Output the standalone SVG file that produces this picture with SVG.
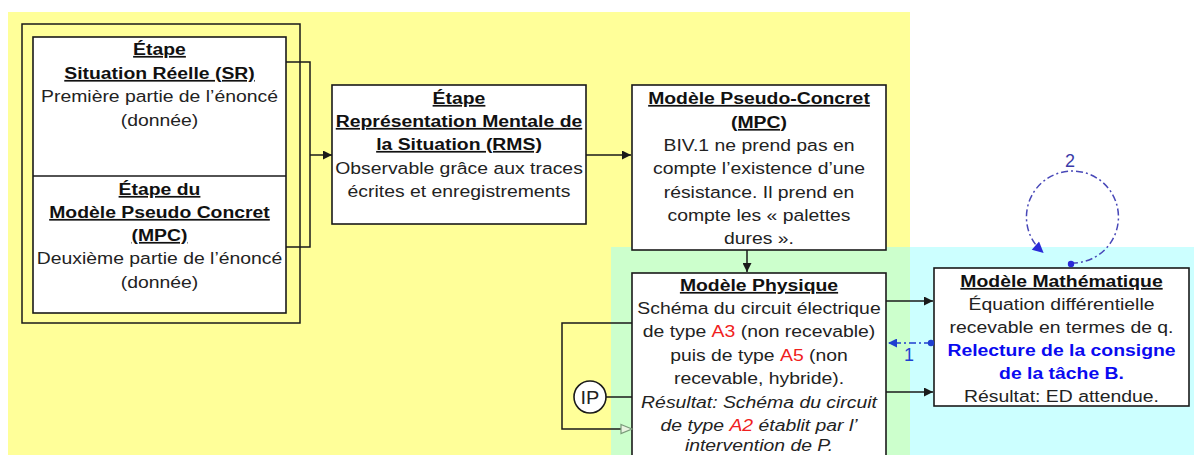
<svg xmlns="http://www.w3.org/2000/svg" width="1194" height="455" viewBox="0 0 1194 455">
<defs>
<style>
.box{fill:#fff;stroke:#1a1a1a;stroke-width:1.6}
.ln{fill:none;stroke:#1a1a1a;stroke-width:1.5}
text{font-family:"Liberation Sans",Arial,sans-serif;font-size:17px;fill:#222;text-anchor:middle}
.h{font-weight:bold;text-decoration:underline;fill:#111}
.it{font-style:italic}
.red{fill:#f02020}
.blue{fill:#0a0af0;font-weight:bold}
.bl{fill:none;stroke:#1f3fd0;stroke-width:1.5;stroke-dasharray:7 3 2 3}
.lp{fill:none;stroke:#4848b8;stroke-width:1.5;stroke-dasharray:7 3 2 3}
</style>
<marker id="ah" viewBox="0 0 10 10" refX="10" refY="5" markerWidth="11" markerHeight="9" markerUnits="userSpaceOnUse" orient="auto"><path d="M0,0 L10,5 L0,10 z" fill="#1a1a1a"/></marker>
<marker id="bh" viewBox="0 0 10 10" refX="10" refY="5" markerWidth="10" markerHeight="9" markerUnits="userSpaceOnUse" orient="auto"><path d="M0,0 L10,5 L0,10 z" fill="#1f3fd0"/></marker>
<marker id="ph" viewBox="0 0 10 10" refX="8" refY="5" markerWidth="12" markerHeight="11" markerUnits="userSpaceOnUse" orient="auto"><path d="M0,0 L10,5 L0,10 z" fill="#2a2ad8"/></marker>
</defs>
<rect x="0" y="0" width="1194" height="455" fill="#fff"/>
<rect x="8" y="12" width="902" height="443" fill="#ffff99"/>
<rect x="611" y="247" width="299" height="208" fill="#ccffcc"/>
<rect x="910" y="247" width="284" height="208" fill="#ccffff"/>

<g id="sr">
<rect x="22" y="24" width="278" height="299" fill="none" stroke="#1a1a1a" stroke-width="1.5"/>
<rect class="box" x="33" y="37" width="253" height="276"/>
<line x1="33" y1="176" x2="286" y2="176" stroke="#1a1a1a" stroke-width="1.5"/>
<g transform="translate(159.5,0) scale(1.14,1)">
<text class="h" x="0" y="55">Étape</text>
<text class="h" x="0" y="79">Situation Réelle (SR)</text>
<text x="0" y="102">Première partie de l’énoncé</text>
<text x="0" y="126">(donnée)</text>
<text class="h" x="0" y="195">Étape du</text>
<text class="h" x="0" y="218">Modèle Pseudo Concret</text>
<text class="h" x="0" y="241">(MPC)</text>
<text x="0" y="264">Deuxième partie de l’énoncé</text>
<text x="0" y="288">(donnée)</text>
</g>
</g>

<g id="rms">
<rect class="box" x="332" y="85" width="254" height="139"/>
<g transform="translate(459,0) scale(1.14,1)">
<text class="h" x="0" y="104">Étape</text>
<text class="h" x="0" y="127">Représentation Mentale de</text>
<text class="h" x="0" y="150">la Situation (RMS)</text>
<text x="0" y="174">Observable grâce aux traces</text>
<text x="0" y="197">écrites et enregistrements</text>
</g>
</g>

<g id="mpc">
<rect class="box" x="632" y="85" width="254" height="165"/>
<g transform="translate(759,0) scale(1.14,1)">
<text class="h" x="0" y="104">Modèle Pseudo-Concret</text>
<text class="h" x="0" y="128">(MPC)</text>
<text x="0" y="151">BIV.1 ne prend pas en</text>
<text x="0" y="174">compte l’existence d’une</text>
<text x="0" y="198">résistance. Il prend en</text>
<text x="0" y="221">compte les « palettes</text>
<text x="0" y="244">dures ».</text>
</g>
</g>

<g id="physique">
<rect class="box" x="632" y="273" width="254" height="200"/>
<g transform="translate(759,0) scale(1.14,1)">
<text class="h" x="0" y="291">Modèle Physique</text>
<text x="0" y="314">Schéma du circuit électrique</text>
<text x="0" y="337">de type <tspan class="red">A3</tspan> (non recevable)</text>
<text x="0" y="361">puis de type <tspan class="red">A5</tspan> (non</text>
<text x="0" y="384">recevable, hybride).</text>
<text class="it" x="0" y="408">Résultat: Schéma du circuit</text>
<text class="it" x="0" y="431">de type <tspan class="red">A2</tspan> établit par l’</text>
<text class="it" x="0" y="451">intervention de P.</text>
</g>
</g>

<g id="math">
<rect class="box" x="934" y="268" width="255" height="138"/>
<g transform="translate(1061.5,0) scale(1.14,1)">
<text class="h" x="0" y="287">Modèle Mathématique</text>
<text x="0" y="310">Équation différentielle</text>
<text x="0" y="333">recevable en termes de q.</text>
<text class="blue" x="0" y="356">Relecture de la consigne</text>
<text class="blue" x="0" y="379">de la tâche B.</text>
<text x="0" y="402">Résultat: ED attendue.</text>
</g>
</g>

<g id="ip">
<circle cx="590" cy="397" r="16" fill="#fff" stroke="#1a1a1a" stroke-width="1.6"/>
<g transform="translate(590,0) scale(1.05,1)"><text x="0" y="404" style="font-size:19px">IP</text></g>
</g>

<g id="connectors">
<path class="ln" d="M286,62 H310 V247 H286"/>
<line class="ln" x1="310" y1="155" x2="332" y2="155" marker-end="url(#ah)"/>
<line class="ln" x1="586" y1="155" x2="631" y2="155" marker-end="url(#ah)"/>
<line class="ln" x1="747" y1="250" x2="747" y2="272" marker-end="url(#ah)"/>
<line class="ln" x1="886" y1="301" x2="933" y2="301" marker-end="url(#ah)"/>
<line class="ln" x1="886" y1="392" x2="933" y2="392" marker-end="url(#ah)"/>
<line class="ln" x1="606" y1="397" x2="632" y2="397"/>
<path class="ln" d="M632,323 H562 V429 H621"/>
<polygon points="621,424.5 632,429 621,433.5" fill="#e8f4e0" stroke="#7a9a7a" stroke-width="1.2"/>
<line class="bl" x1="931" y1="343" x2="888" y2="343" marker-end="url(#bh)"/>
<circle cx="931" cy="343" r="3.2" fill="#1f3fd0"/>
<text x="909" y="361" style="fill:#1f3fd0;font-size:18px">1</text>
<path class="lp" d="M1071,263 A46,46 0 1 0 1042,251.5" marker-end="url(#ph)"/>
<circle cx="1071" cy="264" r="3.2" fill="#2a2ad8"/>
<text x="1070" y="167" style="fill:#3a3aa8;font-size:18px">2</text>
</g>
</svg>
